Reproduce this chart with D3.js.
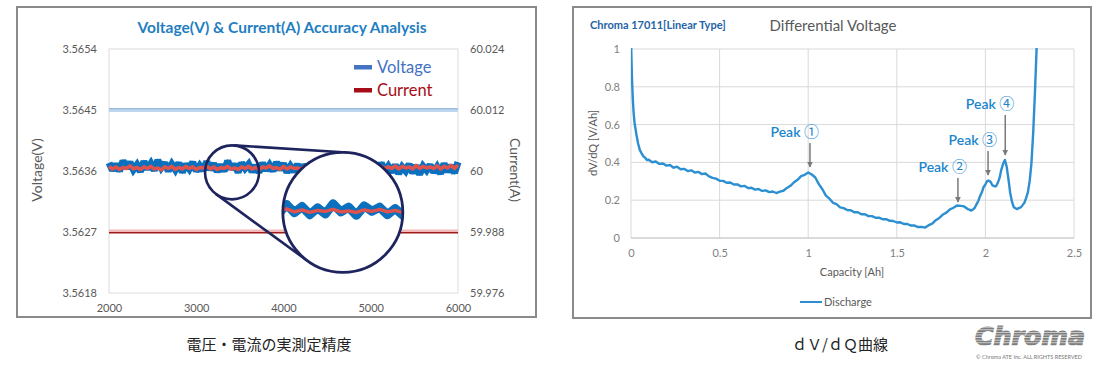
<!DOCTYPE html>
<html><head><meta charset="utf-8">
<script src="https://cdn.jsdelivr.net/npm/d3@7"></script>
<style>
body{margin:0;background:#fff}
svg{display:block}
text{font-family:Lato,"Open Sans","Noto Sans",sans-serif}
</style>
</head><body>
<svg id="c" width="1103" height="368"></svg>
<script>
// ---------- DATA: left chart ----------
const timeX = [2000,2040,2080,2120,2160,2200,2240,2280,2320,2360,2400,2440,2480,2520,2560,2600,2640,2680,2720,2760,
2800,2840,2880,2920,2960,3000,3040,3080,3120,3160,3200,3240,3280,3320,3360,3400,3440,3480,3520,3560,
3600,3640,3680,3720,3760,3800,3840,3880,3920,3960,4000,4040,4080,4120,4160,4200,4240,4280,4320,4360,
4400,4440,4480,4520,4560,4600,4640,4680,4720,4760,4800,4840,4880,4920,4960,5000,5040,5080,5120,5160,
5200,5240,5280,5320,5360,5400,5440,5480,5520,5560,5600,5640,5680,5720,5760,5800,5840,5880,5920,5960,6000];
const voltage = [3.56372,3.56361,3.56370,3.56360,3.56375,3.56364,3.56373,3.56362,3.56369,3.56359,3.56374,3.56363,3.56371,3.56361,3.56376,3.56365,3.56372,3.56360,3.56370,3.56362,
3.56372,3.56358,3.56370,3.56363,3.56373,3.56360,3.56368,3.56361,3.56374,3.56362,3.56371,3.56359,3.56369,3.56360,3.56375,3.56363,3.56370,3.56358,3.56372,3.56364,
3.56370,3.56359,3.56368,3.56358,3.56372,3.56361,3.56369,3.56360,3.56373,3.56362,3.56371,3.56358,3.56367,3.56359,3.56370,3.56357,3.56369,3.56362,3.56372,3.56360,
3.56367,3.56358,3.56372,3.56362,3.56369,3.56357,3.56368,3.56360,3.56370,3.56356,3.56367,3.56359,3.56371,3.56361,3.56369,3.56358,3.56366,3.56357,3.56372,3.56360,
3.56367,3.56358,3.56369,3.56356,3.56366,3.56360,3.56370,3.56357,3.56368,3.56355,3.56367,3.56361,3.56369,3.56358,3.56366,3.56356,3.56371,3.56359,3.56368,3.56357,3.56373];
const current = [60.0009,60.0004,60.0008,60.0003,60.0007,60.0005,60.0010,60.0004,60.0007,60.0003,60.0008,60.0005,60.0009,60.0004,60.0006,60.0002,60.0008,60.0005,60.0009,60.0003,
60.0007,60.0004,60.0009,60.0005,60.0008,60.0003,60.0007,60.0006,60.0010,60.0004,60.0008,60.0003,60.0007,60.0005,60.0009,60.0004,60.0006,60.0003,60.0008,60.0005,
60.0009,60.0004,60.0007,60.0003,60.0008,60.0006,60.0010,60.0005,60.0007,60.0003,60.0009,60.0004,60.0008,60.0005,60.0006,60.0003,60.0009,60.0004,60.0007,60.0005,
60.0008,60.0003,60.0009,60.0005,60.0007,60.0004,60.0010,60.0006,60.0008,60.0004,60.0009,60.0005,60.0007,60.0003,60.0008,60.0006,60.0010,60.0004,60.0009,60.0005,
60.0008,60.0005,60.0010,60.0004,60.0009,60.0006,60.0008,60.0004,60.0011,60.0005,60.0009,60.0006,60.0008,60.0005,60.0010,60.0004,60.0009,60.0006,60.0011,60.0005,60.0012];
const voltageLimits = [3.5645, 3.5627];
const currentLimits = [60.012, 59.988];
const timeTicks = [2000,3000,4000,5000,6000];
const voltTicks = [3.5618,3.5627,3.5636,3.5645,3.5654];
const currTicks = [59.976,59.988,60,60.012,60.024];
const currTickLabels = ["59.976","59.988","60","60.012","60.024"];
const seriesNames = ["Voltage","Current"];
const zoomFrom = [3410, 3.56358];   // small lens centre (time, V)
const zoomTo = [4680, 3.56299];     // large lens centre (time, V)

// ---------- DATA: right chart ----------
const capacity = [0,0.005,0.01,0.015,0.02,0.03,0.04,0.05,0.06,0.07,0.08,0.09,
0.10,0.12,0.14,0.16,0.18,0.20,0.22,0.24,0.26,0.28,0.30,0.32,0.34,0.36,0.38,0.40,0.42,0.44,0.46,0.48,
0.50,0.52,0.54,0.56,0.58,0.60,0.62,0.64,0.66,0.68,0.70,0.72,0.74,0.76,0.78,0.80,0.82,0.84,0.86,0.88,
0.90,0.92,0.94,0.96,0.98,1.00,1.02,1.04,1.06,1.08,1.10,1.12,1.14,1.16,1.18,1.20,1.22,1.24,1.26,1.28,
1.30,1.32,1.34,1.36,1.38,1.40,1.42,1.44,1.46,1.48,1.50,1.52,1.54,1.56,1.58,1.60,1.62,1.64,1.66,1.68,
1.70,1.72,1.74,1.76,1.78,1.80,1.82,1.84,1.86,1.88,1.90,1.91,1.92,1.93,1.94,1.95,1.96,1.97,1.98,1.99,
2.00,2.01,2.02,2.03,2.04,2.05,2.06,2.07,2.08,2.09,2.10,2.11,2.12,2.13,2.14,2.15,2.16,2.17,2.18,2.19,
2.20,2.21,2.22,2.23,2.24,2.25,2.26,2.27,2.28,2.29];
const dvdq = [1.05,0.86,0.74,0.66,0.61,0.55,0.50,0.465,0.448,0.432,0.425,0.412,
0.414,0.401,0.405,0.392,0.394,0.383,0.386,0.372,0.377,0.364,0.366,0.354,0.358,0.346,0.350,0.338,0.341,0.326,0.318,0.314,
0.303,0.302,0.292,0.294,0.283,0.284,0.273,0.276,0.264,0.266,0.256,0.259,0.249,0.252,0.243,0.246,0.238,0.245,0.250,0.265,
0.276,0.295,0.308,0.327,0.334,0.347,0.336,0.320,0.285,0.258,0.224,0.208,0.186,0.179,0.162,0.158,0.148,0.147,0.136,0.136,
0.126,0.126,0.116,0.116,0.107,0.108,0.099,0.100,0.091,0.090,0.082,0.083,0.074,0.074,0.066,0.066,0.058,0.059,0.055,0.068,
0.076,0.094,0.106,0.124,0.134,0.152,0.160,0.172,0.170,0.167,0.153,0.150,0.145,0.151,0.160,0.179,0.196,0.222,0.242,0.270,
0.283,0.302,0.303,0.296,0.278,0.274,0.274,0.292,0.318,0.362,0.393,0.413,0.378,0.312,0.238,0.192,0.163,0.157,0.153,0.159,
0.162,0.174,0.186,0.212,0.243,0.302,0.398,0.562,0.78,1.03];
const capTicks = [0,0.5,1,1.5,2,2.5];
const capTickLabels = ["0","0.5","1","1.5","2","2.5"];
const dvTicks = [0,0.2,0.4,0.6,0.8,1];
const dvTickLabels = ["0","0.2","0.4","0.6","0.8","1"];
const peakNames = ["Peak","Peak","Peak","Peak"];
const peakMarks = ["①","②","③","④"];
const peakX = [1.01, 1.845, 2.015, 2.112];
const peakArrowTop = [0.503, 0.317, 0.46, 0.651];
const peakArrowTip = [0.376, 0.19, 0.333, 0.439];

// ---------- DRAW ----------
const svg = d3.select('#c');
svg.append('rect').attr('width',1103).attr('height',368).attr('fill','#fff');
const defs = svg.append('defs');
const cjk = '"Noto Sans CJK JP","Noto Sans CJK SC",sans-serif';

// ===== Left panel =====
svg.append('rect').attr('x',17).attr('y',7).attr('width',519).attr('height',310)
  .attr('fill','none').attr('stroke','#8a8a8a').attr('stroke-width',2);
const L = {x0:109, x1:458, y0:49, y1:293};
const xT = d3.scaleLinear().domain([2000,6000]).range([L.x0,L.x1]);
const yV = d3.scaleLinear().domain([3.5618,3.5654]).range([L.y1,L.y0]);
const yC = d3.scaleLinear().domain([59.976,60.024]).range([L.y1,L.y0]);

svg.append('text').attr('x',282).attr('y',33).attr('text-anchor','middle')
  .attr('fill','#1F7EC2').style('font-size','15.5px').style('font-weight','700')
  .text('Voltage(V) & Current(A) Accuracy Analysis');

svg.append('rect').attr('x',L.x0).attr('y',L.y0).attr('width',L.x1-L.x0).attr('height',L.y1-L.y0)
  .attr('fill','none').attr('stroke','#dcdcdc').attr('stroke-width',1);

function styleAxis(g, size, color){
  g.select('.domain').remove();
  g.attr('font-family','Lato, sans-serif').attr('font-size',size);
  g.selectAll('text').attr('fill',color);
}
styleAxis(svg.append('g').attr('transform',`translate(${L.x0},0)`)
  .call(d3.axisLeft(yV).tickValues(voltTicks).tickFormat(d3.format('.4f')).tickSize(0).tickPadding(12)), 11, '#595959');
styleAxis(svg.append('g').attr('transform',`translate(${L.x1},0)`)
  .call(d3.axisRight(yC).tickValues(currTicks).tickFormat((d,i)=>currTickLabels[i]).tickSize(0).tickPadding(12)), 11, '#595959');
styleAxis(svg.append('g').attr('transform',`translate(0,${L.y1})`)
  .call(d3.axisBottom(xT).tickValues(timeTicks).tickFormat(d3.format('d')).tickSize(0).tickPadding(11)), 11, '#595959');

svg.append('text').attr('transform',`translate(42,170) rotate(-90)`).attr('text-anchor','middle')
  .attr('fill','#595959').style('font-size','14px').text('Voltage(V)');
svg.append('text').attr('transform',`translate(510,170) rotate(90)`).attr('text-anchor','middle')
  .attr('fill','#595959').style('font-size','14px').text('Current(A)');

// limit lines
const yUp = yV(voltageLimits[0]);
svg.append('line').attr('x1',L.x0).attr('x2',L.x1).attr('y1',yUp).attr('y2',yUp).attr('stroke','#BDD7EE').attr('stroke-width',4);
svg.append('line').attr('x1',L.x0).attr('x2',L.x1).attr('y1',yUp-1.2).attr('y2',yUp-1.2).attr('stroke','#8DB3D9').attr('stroke-width',1);
const yLo = yC(currentLimits[1]);
svg.append('line').attr('x1',L.x0).attr('x2',L.x1).attr('y1',yLo-1).attr('y2',yLo-1).attr('stroke','#F2B9B9').attr('stroke-width',3);
svg.append('line').attr('x1',L.x0).attr('x2',L.x1).attr('y1',yLo+0.8).attr('y2',yLo+0.8).attr('stroke','#9E1B1B').attr('stroke-width',1.4);

const blue = '#0B70BE', red = '#E0534D';
const lineV = d3.line().x((d,i)=>xT(timeX[i])).y(d=>yV(d));
const lineC = d3.line().x((d,i)=>xT(timeX[i])).y(d=>yC(d));
svg.append('path').attr('d',lineV(voltage)).attr('fill','none').attr('stroke',blue).attr('stroke-width',7).attr('stroke-linejoin','miter').attr('stroke-miterlimit',2);
svg.append('path').attr('d',lineV(voltage)).attr('fill','none').attr('stroke',blue).attr('stroke-width',1.5);
svg.append('path').attr('d',lineC(current)).attr('fill','none').attr('stroke',red).attr('stroke-width',3.6).attr('stroke-linejoin','round');

// legend
const legColors = ['#4472C4','#A50E16'];
seriesNames.forEach((n,i)=>{
  const y = 67 + i*23;
  svg.append('rect').attr('x',354).attr('y',y-2).attr('width',18).attr('height',4.5).attr('fill',legColors[i]);
  svg.append('text').attr('x',377).attr('y',y+5.5).attr('fill',legColors[i]).style('font-size','16.5px').text(n);
});

// zoom lenses
const c1 = [xT(zoomFrom[0]), yV(zoomFrom[1])], r1 = 27;
const c2 = [xT(zoomTo[0]), yV(zoomTo[1])], r2 = 60;
const dx = c2[0]-c1[0], dy = c2[1]-c1[1], dist = Math.hypot(dx,dy);
const th = Math.atan2(dy,dx), al = Math.acos((r1-r2)/dist);
const navy = '#1E245E';
[th+al, th-al].forEach(a=>{
  svg.append('line')
    .attr('x1',c1[0]+r1*Math.cos(a)).attr('y1',c1[1]+r1*Math.sin(a))
    .attr('x2',c2[0]+r2*Math.cos(a)).attr('y2',c2[1]+r2*Math.sin(a))
    .attr('stroke',navy).attr('stroke-width',2.6);
});
svg.append('circle').attr('cx',c1[0]).attr('cy',c1[1]).attr('r',r1).attr('fill','none').attr('stroke',navy).attr('stroke-width',2.6);
svg.append('circle').attr('cx',c2[0]).attr('cy',c2[1]).attr('r',r2).attr('fill','#fff');
defs.append('clipPath').attr('id','lens').append('circle').attr('cx',c2[0]).attr('cy',c2[1]).attr('r',r2-1);
const xIn = d3.scaleLinear().domain([xT.invert(c1[0]-r1), xT.invert(c1[0]+r1)]).range([c2[0]-r2, c2[0]+r2]);
const shift = (c2[1]-c1[1]) + 3;
const gIn = svg.append('g').attr('clip-path','url(#lens)');
const lineVin = d3.line().x((d,i)=>xIn(timeX[i])).y(d=>yV(d)+shift);
gIn.append('path').attr('d',lineVin(voltage)).attr('fill','none').attr('stroke',blue).attr('stroke-width',9).attr('stroke-linejoin','round');
gIn.append('path').attr('d',lineVin(voltage)).attr('fill','none').attr('stroke',blue).attr('stroke-width',1.5);
gIn.append('path').attr('d',d3.line().x((d,i)=>xIn(timeX[i])).y(d=>yC(d)+shift)(current))
  .attr('fill','none').attr('stroke',red).attr('stroke-width',3.4).attr('stroke-linejoin','round');
svg.append('circle').attr('cx',c2[0]).attr('cy',c2[1]).attr('r',r2).attr('fill','none').attr('stroke',navy).attr('stroke-width',2.8);

// ===== Right panel =====
svg.append('rect').attr('x',573).attr('y',7).attr('width',518).attr('height',311)
  .attr('fill','none').attr('stroke','#8a8a8a').attr('stroke-width',2);
const R = {x0:631, x1:1074, y0:49, y1:238};
const xQ = d3.scaleLinear().domain([0,2.5]).range([R.x0,R.x1]);
const yD = d3.scaleLinear().domain([0,1]).range([R.y1,R.y0]);

svg.append('text').attr('x',590).attr('y',29).attr('fill','#2463A6')
  .style('font-size','11px').style('font-weight','700').text('Chroma 17011[Linear Type]');
svg.append('text').attr('x',833).attr('y',31).attr('text-anchor','middle').attr('fill','#595959')
  .style('font-size','15px').text('Differential Voltage');

const grid = svg.append('g').attr('stroke','#d9d9d9').attr('stroke-width',1);
capTicks.forEach(t=>grid.append('line').attr('x1',xQ(t)).attr('x2',xQ(t)).attr('y1',R.y0).attr('y2',R.y1));
dvTicks.forEach(t=>grid.append('line').attr('x1',R.x0).attr('x2',R.x1).attr('y1',yD(t)).attr('y2',yD(t)));
svg.append('line').attr('x1',R.x0).attr('x2',R.x1).attr('y1',R.y1).attr('y2',R.y1).attr('stroke','#c8c8c8');

styleAxis(svg.append('g').attr('transform',`translate(${R.x0},0)`)
  .call(d3.axisLeft(yD).tickValues(dvTicks).tickFormat((d,i)=>dvTickLabels[i]).tickSize(0).tickPadding(11)), 11, '#808080');
styleAxis(svg.append('g').attr('transform',`translate(0,${R.y1})`)
  .call(d3.axisBottom(xQ).tickValues(capTicks).tickFormat((d,i)=>capTickLabels[i]).tickSize(0).tickPadding(11)), 11, '#808080');

svg.append('text').attr('transform',`translate(597,143) rotate(-90)`).attr('text-anchor','middle')
  .attr('fill','#595959').style('font-size','11px').text('dV/dQ [V/Ah]');
svg.append('text').attr('x',852).attr('y',276).attr('text-anchor','middle')
  .attr('fill','#595959').style('font-size','11px').text('Capacity [Ah]');

defs.append('clipPath').attr('id','plotR').append('rect').attr('x',R.x0).attr('y',R.y0-1).attr('width',R.x1-R.x0).attr('height',R.y1-R.y0+2);
const curveColor = '#2B8FD2';
svg.append('path').attr('clip-path','url(#plotR)')
  .attr('d',d3.line().x((d,i)=>xQ(capacity[i])).y(d=>yD(d))(dvdq))
  .attr('fill','none').attr('stroke',curveColor).attr('stroke-width',2.4).attr('stroke-linejoin','round');

// legend
svg.append('line').attr('x1',800).attr('x2',822).attr('y1',302).attr('y2',302).attr('stroke',curveColor).attr('stroke-width',2);
svg.append('text').attr('x',824).attr('y',306).attr('fill','#595959').style('font-size','11px').text('Discharge');

// peaks
defs.append('marker').attr('id','ah').attr('viewBox','0 0 10 10').attr('refX',9).attr('refY',5)
  .attr('markerWidth',4).attr('markerHeight',4).attr('orient','auto')
  .append('path').attr('d','M0,0L10,5L0,10z').attr('fill','#7a7a7a');
peakNames.forEach((lab,i)=>{
  const x = xQ(peakX[i]);
  svg.append('line').attr('x1',x).attr('x2',x).attr('y1',yD(peakArrowTop[i])).attr('y2',yD(peakArrowTip[i]))
    .attr('stroke','#7a7a7a').attr('stroke-width',1.5).attr('marker-end','url(#ah)');
  const t = svg.append('text').attr('x',x+9).attr('y',yD(peakArrowTop[i])-6).attr('text-anchor','end')
    .attr('fill','#1A85CC').style('font-size','14px').style('font-weight','600');
  t.append('tspan').text(lab + ' ');
  t.append('tspan').style('font-family',cjk).style('font-weight','400').style('font-size','15px').text(peakMarks[i]);
});

// ===== captions =====
svg.append('text').attr('x',269).attr('y',350).attr('text-anchor','middle').attr('fill','#222')
  .style('font-family',cjk).style('font-size','15px').text('電圧・電流の実測定精度');
svg.append('text').attr('x',840).attr('y',350).attr('text-anchor','middle').attr('fill','#222')
  .style('font-family',cjk).style('font-size','15px').text('ｄＶ/ｄＱ曲線');

// logo
const pat = defs.append('pattern').attr('id','stripes').attr('patternUnits','userSpaceOnUse').attr('width',6).attr('height',2.6);
pat.append('rect').attr('width',6).attr('height',2.6).attr('fill','#fff');
pat.append('rect').attr('width',6).attr('height',2).attr('fill','#7d7d7d');
svg.append('text').attr('x',975).attr('y',345).attr('textLength',110).attr('lengthAdjust','spacingAndGlyphs')
  .attr('fill','url(#stripes)').attr('stroke','url(#stripes)').attr('stroke-width',1.2)
  .style('font-family','"DejaVu Sans",sans-serif').style('font-size','24px')
  .style('font-weight','700').style('font-style','italic').text('Chroma');
svg.append('text').attr('x',976).attr('y',359).attr('textLength',106).attr('lengthAdjust','spacingAndGlyphs')
  .attr('fill','#777').style('font-size','5px').text('© Chroma ATE Inc. ALL RIGHTS RESERVED');
</script>
</body></html>
